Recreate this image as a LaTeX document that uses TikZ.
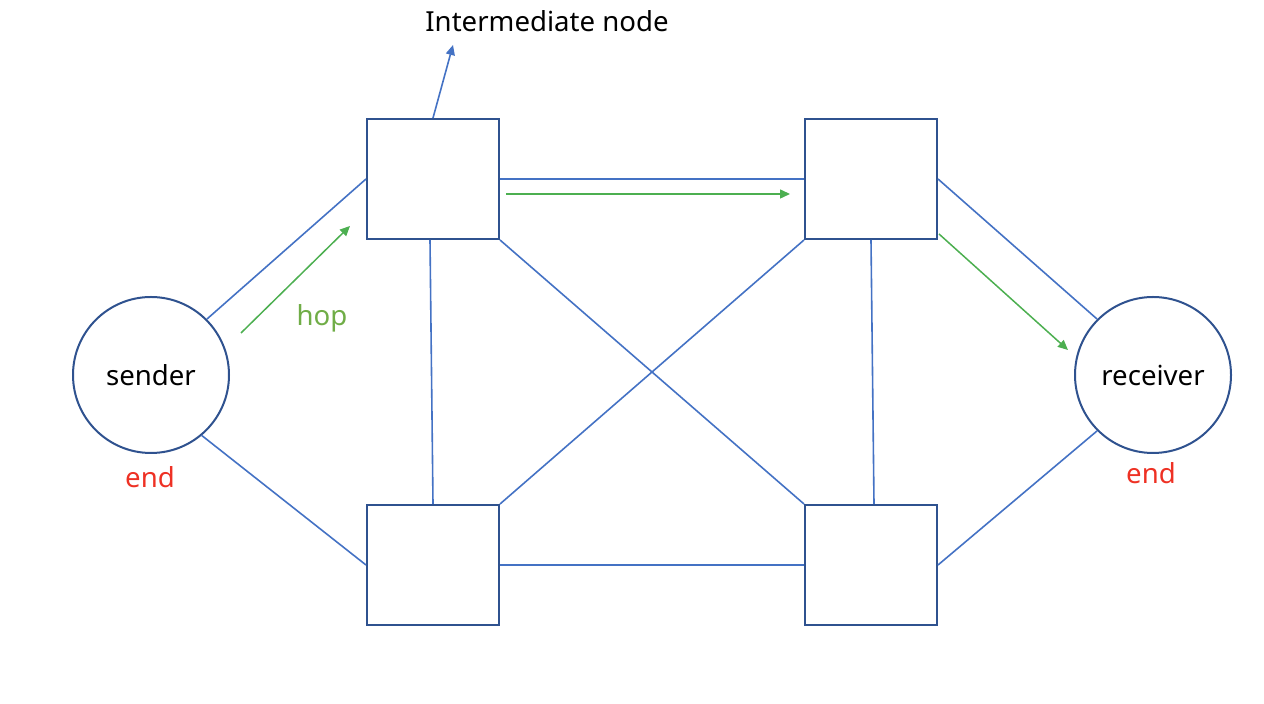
\documentclass[tikz,border=0pt]{standalone}
\usepackage{fontspec}
\setmainfont{Noto Sans}
\usetikzlibrary{arrows.meta}
\definecolor{boxc}{HTML}{2F528F}
\definecolor{linec}{HTML}{4472C4}
\definecolor{grn}{HTML}{4CAF50}
\definecolor{hopc}{HTML}{70AD47}
\definecolor{redc}{HTML}{EE3124}
\begin{document}
\begin{tikzpicture}[x=0.5pt,y=-0.5pt,
  hopbox/.style={draw=boxc,line width=1pt,minimum width=66pt,minimum height=60pt,inner sep=0pt},
  endpt/.style={circle,draw=boxc,line width=1pt,minimum size=78pt,inner sep=0pt,font=\fontsize{13.8}{16}\selectfont},
  link/.style={draw=linec,line width=0.8pt},
  hoparrow/.style={draw=grn,line width=0.75pt,-{Triangle[length=5pt,width=4.5pt]}},
  lbl/.style={font=\fontsize{13.8}{16}\selectfont,inner sep=0pt}]
\useasboundingbox (0,0) rectangle (1264,704);
\node[endpt] (sender) at (151,375) {sender};
\node[endpt] (receiver) at (1153,375) {receiver};
\node[hopbox] (TL) at (433,179) {};
\node[hopbox] (TR) at (871,179) {};
\node[hopbox] (BL) at (433,565) {};
\node[hopbox] (BR) at (871,565) {};
\node[lbl] (inter) at (547,21) {Intermediate node};
\node[lbl,text=hopc] (hop) at (322,318) {hop};
\node[lbl,text=redc] (end1) at (150,477) {end};
\node[lbl,text=redc] (end2) at (1151,473) {end};
\coordinate (interTip) at (453,45);
\coordinate (g1a) at (241,333); \coordinate (g1b) at (350,226);
\coordinate (g2a) at (506,194); \coordinate (g2b) at (790,194);
\coordinate (g3a) at (939,234); \coordinate (g3b) at (1068,350);
\path[link] (sender.45) -- (TL.west);
\path[link] (sender.-50) -- (BL.west);
\path[link] (TL.east) -- (TR.west);
\path[link] ([xshift=-1.5pt]TL.south) -- (BL.north);
\path[link] (TR.south) -- ([xshift=1.5pt]BR.north);
\path[link] (TL.south east) -- (BR.north west);
\path[link] (BL.north east) -- (TR.south west);
\path[link] (BL.east) -- (BR.west);
\path[link] (TR.east) -- (receiver.135);
\path[link] (BR.east) -- (receiver.225);
\path[link,-{Triangle[length=5pt,width=4.5pt]}] (TL.north) -- (interTip);
\draw[hoparrow] (g1a) -- (g1b);
\draw[hoparrow] (g2a) -- (g2b);
\draw[hoparrow] (g3a) -- (g3b);
\end{tikzpicture}
\end{document}
